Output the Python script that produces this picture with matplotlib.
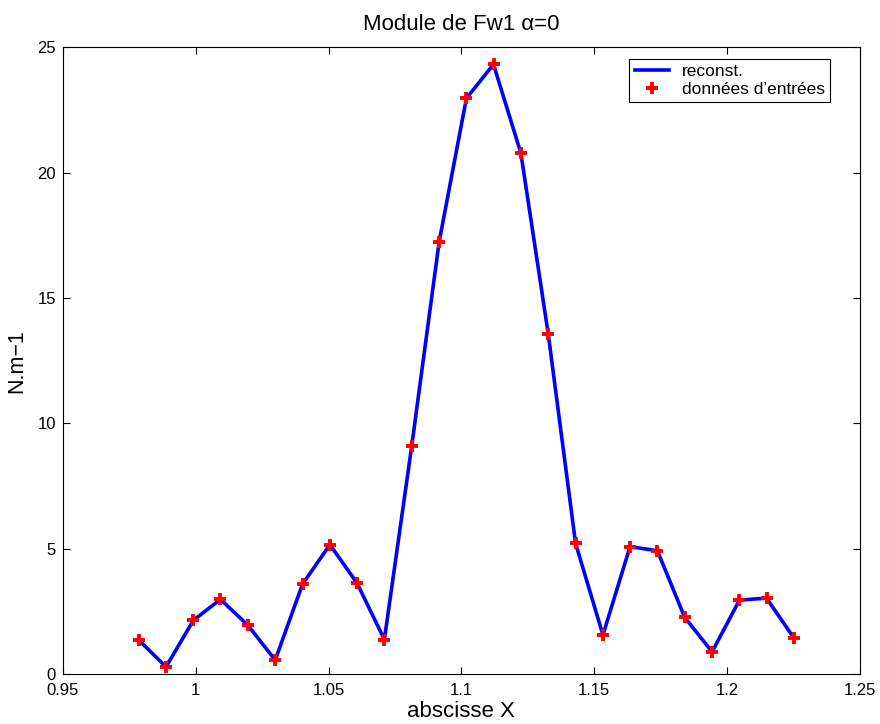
import matplotlib
matplotlib.use("Agg")
import matplotlib.pyplot as plt

x_vals = [0.9785, 0.9888, 0.9991, 1.0093, 1.0196, 1.0299, 1.0402, 1.0505,
          1.0607, 1.0710, 1.0813, 1.0916, 1.1019, 1.1121, 1.1224, 1.1327,
          1.1430, 1.1533, 1.1635, 1.1738, 1.1841, 1.1944, 1.2047, 1.2149,
          1.2252]
y_vals = [1.37, 0.30, 2.16, 2.99, 1.96, 0.57, 3.60, 5.17, 3.64, 1.39,
          9.10, 17.22, 22.96, 24.31, 20.77, 13.57, 5.22, 1.57, 5.09, 4.93,
          2.27, 0.90, 2.96, 3.04, 1.45]
x_ticks = [0.95, 1.0, 1.05, 1.1, 1.15, 1.2, 1.25]
x_tick_labels = ["0.95", "1", "1.05", "1.1", "1.15", "1.2", "1.25"]
y_ticks = [0, 5, 10, 15, 20, 25]

plt.rcParams["font.family"] = ["Liberation Sans", "DejaVu Sans"]

fig = plt.figure(figsize=(8.8, 7.24), dpi=100)
ax = fig.add_axes([0.0716, 0.0685, 0.9054, 0.8665])

ax.plot(x_vals, y_vals, color="#0000ff", lw=2.6, label="reconst.", zorder=2)
ax.plot(x_vals, y_vals, ls="none", marker="+", ms=9, mew=2.8,
        color="#ff0000", label="données d\u2019entrées", zorder=3)

ax.set_xlim(0.95, 1.25)
ax.set_ylim(0, 25)
ax.set_xticks(x_ticks)
ax.set_xticklabels(x_tick_labels)
ax.set_yticks(y_ticks)
ax.tick_params(direction="in", top=True, right=True, labelsize=12,
               length=5, width=0.8)
ax.tick_params(axis="x", pad=6)
ax.tick_params(axis="y", pad=5)
for s in ax.spines.values():
    s.set_linewidth(0.8)

ax.set_title("Module de Fw1 \u03b1=0", fontsize=16, pad=12)
ax.set_xlabel("abscisse X", fontsize=16, labelpad=2)
ax.set_ylabel("N.m\u22121", fontsize=15.5, labelpad=7)

leg = ax.legend(loc="upper right", bbox_to_anchor=(0.9623, 0.981),
                borderaxespad=0, fontsize=12.5, fancybox=False, framealpha=1,
                edgecolor="black", handlelength=2.0, borderpad=0.3,
                labelspacing=0.15, handletextpad=0.7)
leg.get_frame().set_linewidth(0.8)

plt.savefig("out.png", dpi=100)
